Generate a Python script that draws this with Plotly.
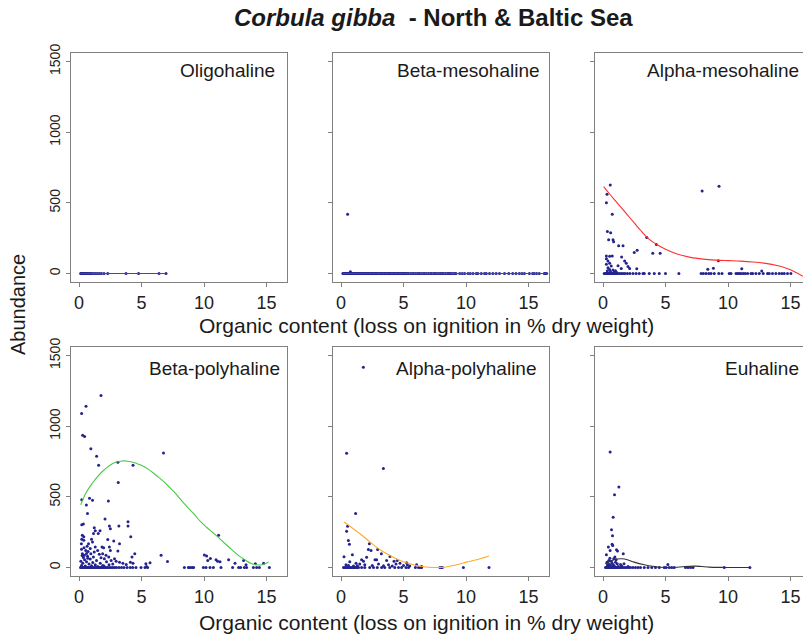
import plotly.graph_objects as go

# ---------------- data ----------------
panel_names = ["Oligohaline", "Beta-mesohaline", "Alpha-mesohaline",
               "Beta-polyhaline", "Alpha-polyhaline", "Euhaline"]
x_ticks = [0, 5, 10, 15]
y_ticks = [0, 500, 1000, 1500]

# Oligohaline
oligo_x = [0.13, 0.2, 0.28, 0.35, 0.42, 0.5, 0.58, 0.65, 0.75, 0.85, 0.95, 1.05,
           1.2, 1.35, 1.5, 1.65, 1.8, 2.0, 2.3, 3.76, 4.77, 6.4, 6.96]
oligo_y = [0] * 23
oligo_fit_x = [0.13, 6.96]
oligo_fit_y = [0, 0]

# Beta-mesohaline
bmeso_x = [0.53, 0.75,
           0.15, 0.2, 0.25, 0.3, 0.38, 0.45, 0.5, 0.58, 0.65, 0.7, 0.8, 0.88, 0.95, 1.05,
           1.12, 1.2, 1.3, 1.38, 1.45, 1.55, 1.62, 1.7, 1.8, 1.88, 1.95, 2.05, 2.15,
           2.22, 2.3, 2.4, 2.48, 2.55, 2.65, 2.75, 2.82, 2.9, 3.0, 3.1, 3.18, 3.25,
           3.35, 3.45, 3.52, 3.6, 3.7, 3.8, 3.88, 3.95, 4.05, 4.15, 4.22, 4.3, 4.4,
           4.5, 4.58, 4.65, 4.75, 4.85, 4.95,
           5.0, 5.1, 5.2, 5.3, 5.4, 5.55, 5.7, 5.8, 5.95, 6.1, 6.2, 6.3, 6.45, 6.6,
           6.7, 6.85, 7.0, 7.15, 7.25, 7.4, 7.5, 7.6, 7.75, 7.9, 8.0, 8.1, 8.2, 8.35,
           8.5, 8.6, 8.7, 8.8, 8.95, 9.1, 9.2,
           9.5, 9.7, 9.89, 10.16, 10.34, 10.56, 10.82, 10.95, 11.22, 11.48, 11.62,
           11.88, 12.15, 12.41, 12.68, 13.08, 13.42, 13.74, 14.0, 14.27, 14.48, 14.67,
           15.07, 15.33, 15.46, 15.65, 15.86, 16.26, 16.34, 16.45]
bmeso_y = [419, 12] + [0] * (len(bmeso_x) - 2)
bmeso_fit_x = [0.13, 16.5]
bmeso_fit_y = [0, 0]

# Alpha-mesohaline
ameso_x = [0.58, 0.32, 0.27, 0.74, 0.35, 0.61, 0.45, 0.8, 0.85, 1.25, 1.6, 3.5, 4.27,
           2.73, 2.5, 3.98, 4.57, 7.93, 9.28, 9.23, 0.27, 0.53, 0.74, 0.27, 0.4, 0.53,
           0.27, 0.66, 0.4, 0.53, 0.35, 0.6, 0.8, 0.9, 1.0, 1.49, 1.73, 1.86, 2.0, 1.46,
           2.13, 2.7, 8.38, 8.83, 11.1, 12.7, 1.2, 1.1,
           0.1, 0.18, 0.25, 0.3, 0.36, 0.42, 0.48, 0.55, 0.62, 0.7, 0.78, 0.86, 0.95,
           1.05, 1.15, 1.3, 1.45, 1.6, 1.75, 1.95, 2.15, 2.4, 2.65, 2.9, 3.2, 3.3, 3.7,
           4.1, 4.5, 5.0, 6.07, 7.85, 8.03, 8.24, 8.46, 8.64, 8.9, 9.26, 9.52, 10.1,
           10.24, 10.64, 10.77, 10.9, 11.04, 11.22, 11.38, 11.57, 11.84, 11.97, 12.23,
           12.5, 12.82, 13.16, 13.3, 13.56, 13.83, 14.1, 14.31, 14.5, 14.76, 15.03]
ameso_y = [627, 560, 500, 419, 297, 289, 239, 239, 225, 196, 196, 254, 206,
           165, 148, 144, 144, 584, 617, 91, 124, 122, 124, 105, 89, 72,
           65, 53, 41, 29, 20, 15, 25, 10, 20, 117, 89, 72, 50, 36,
           36, 33, 31, 38, 33, 17, 55, 8] + [0] * 62
ameso_fit_x = [0.05, 0.5, 1.0, 1.5, 2.0, 2.5, 3.0, 3.5, 4.0, 4.5, 5.0, 5.5, 6.0, 7.0,
               8.0, 9.0, 10.0, 11.0, 12.0, 13.0, 14.0, 14.5, 15.0, 15.5, 16.0]
ameso_fit_y = [615, 566, 514, 462, 410, 358, 306, 258, 222, 195, 172, 152, 136, 114,
               102, 95, 91, 88, 82, 72, 55, 43, 27, 5, -20]

# Beta-polyhaline
bpoly_x = [1.76, 0.56, 0.21, 0.29, 0.45, 0.95, 1.41, 1.57, 6.76, 4.32, 3.11, 3.14,
           2.35, 0.84, 1.08, 0.59, 0.68, 0.35, 0.22, 2.08, 3.92, 3.92, 3.19, 2.43,
           2.51, 1.22, 1.3, 1.68, 1.54, 1.16, 0.27, 0.38, 0.22, 0.38, 0.19, 1.0, 1.08,
           2.3, 2.78, 4.14, 0.76, 1.84, 1.97, 2.43, 2.51, 3.24, 3.11, 4.46, 4.24, 6.57,
           7.08, 5.68, 5.35, 5.4, 11.17, 10.03, 10.21, 10.51, 10.3, 10.96, 11.09, 11.28,
           11.97, 12.48, 13.17, 13.36, 14.11, 14.77, 0.22,
           0.54, 0.73, 0.27, 0.43, 0.68, 0.95, 1.22, 1.49, 1.62, 1.89, 2.16, 1.76, 2.03,
           2.38, 2.57, 2.84, 2.97, 3.24, 3.51, 3.78, 4.11, 4.32,
           0.15, 0.3, 0.45, 0.6, 0.8, 0.9, 1.1, 1.3, 1.4, 1.7, 1.9, 2.2, 2.4, 2.7, 0.2,
           0.5, 1.0, 1.5, 2.0, 0.35, 0.7, 1.15, 0.25, 0.6, 0.2, 0.4, 0.65, 0.9, 1.3,
           0.12, 0.2, 0.28, 0.36, 0.44, 0.52, 0.6, 0.68, 0.76, 0.85, 0.95, 1.05, 1.15,
           1.25, 1.35, 1.45, 1.55, 1.65, 1.75, 1.85, 1.95, 2.05, 2.15, 2.28, 2.4, 2.55,
           2.7, 2.85, 3.0, 3.2, 3.4, 3.6, 3.85, 4.1, 4.3, 4.56, 4.96, 5.28, 5.49, 8.43,
           8.75, 8.88, 9.04, 9.17, 9.95, 10.16, 10.48, 10.75, 11.36, 12.29, 12.77,
           12.93, 13.23, 13.41, 13.95, 14.21, 14.43, 15.23]
bpoly_y = [1217, 1141, 1090, 936, 926, 840, 788, 724, 810, 724, 745, 602,
           471, 490, 476, 443, 383, 307, 302, 343, 324, 293, 293, 293,
           274, 281, 260, 260, 240, 240, 229, 217, 200, 193, 169, 200, 181,
           198, 188, 217, 169, 145, 140, 145, 121, 169, 117, 98, 74, 86,
           43, 33, 26, 7, 229, 88, 81, 64, 50, 55, 45, 40,
           55, 31, 50, 19, 26, 31, 480,
           121, 114, 98, 86, 79, 98, 110, 121, 93, 98, 86, 69, 62,
           74, 50, 62, 45, 38, 31, 21, 38, 31,
           45, 30, 55, 40, 25, 60, 35, 20, 50, 30, 15, 40, 20, 25, 15,
           10, 12, 8, 10, 70, 65, 75, 85, 100, 130, 140, 150, 135, 145] + [0] * 58
bpoly_fit_x = [0.14, 0.54, 1.08, 1.5, 1.89, 2.3, 2.7, 3.1, 3.51, 3.9, 4.32, 4.7, 5.14,
               5.5, 5.95, 6.35, 6.76, 7.15, 7.57, 8.0, 8.38, 8.8, 9.19, 9.73, 10.2,
               10.7, 11.17, 11.7, 12.29, 12.8, 13.36, 13.7, 14.03, 14.4, 14.69, 15.17]
bpoly_fit_y = [443, 526, 598, 645, 681, 712, 736, 748, 754, 752, 745, 733, 717,
               698, 669, 640, 610, 575, 538, 495, 455, 415, 379, 324, 285,
               248, 212, 168, 121, 82, 50, 32, 21, 18, 22, 38]

# Alpha-polyhaline
apoly_x = [1.79, 0.45, 3.39, 1.17, 0.53, 0.45, 0.59, 0.67, 0.24, 0.91, 2.27, 2.19,
           2.4, 2.93, 3.23, 3.92, 1.65, 1.8, 2.05, 2.72, 2.85, 3.65, 4.24, 4.5, 4.72,
           5.25, 5.31, 6.05, 6.45, 0.4, 0.6, 1.0, 1.3, 1.5, 1.9, 2.5, 3.0, 3.4, 3.8,
           4.1, 4.4, 5.0, 5.5, 0.7, 1.2,
           0.2, 0.3, 0.4, 0.5, 0.6, 0.7, 0.8, 0.9, 1.0, 1.1, 1.2, 1.3, 1.4, 1.65, 1.9,
           2.3, 2.6, 2.9, 3.25, 3.5, 3.9, 4.3, 4.6, 4.85, 5.2, 5.4, 5.95, 6.2, 6.35,
           6.45, 7.92, 8.05, 8.11, 9.79, 11.84]
apoly_y = [1417, 808, 701, 382, 292, 256, 192, 164, 76, 90, 168, 128,
           121, 128, 97, 78, 55, 45, 73, 55, 55, 50, 45, 50, 31,
           33, 19, 19, 7, 20, 15, 10, 12, 25, 20, 15, 25, 12, 20,
           10, 25, 15, 10, 40, 30] + [0] * 35
apoly_fit_x = [0.24, 0.72, 1.52, 2.32, 3.12, 3.92, 4.72, 5.52, 6.32, 7.0, 7.6, 8.05,
               8.5, 8.99, 9.5, 10.05, 10.6, 11.12, 11.84]
apoly_fit_y = [322, 292, 239, 180, 126, 85, 50, 26, 9, 2, 0, 1,
               6, 14, 25, 38, 50, 62, 81]

# Euhaline
euha_x = [0.57, 1.27, 0.92, 0.81, 0.68, 0.76, 0.73, 0.78, 0.43, 1.08, 1.16, 0.57,
          1.62, 0.27, 0.95, 0.86, 5.19,
          0.46, 0.65, 0.32, 0.73, 1.0, 1.14, 1.4, 1.68, 0.5, 0.6, 0.4, 0.9, 1.2, 0.35,
          0.8, 1.5, 2.0, 0.55, 1.05,
          0.2, 0.26, 0.32, 0.38, 0.44, 0.5, 0.56, 0.62, 0.68, 0.74, 0.8, 0.88, 0.96,
          1.05, 1.15, 1.25, 1.35, 1.45, 1.6, 1.75, 1.9, 2.05, 2.2, 2.4, 2.6, 2.8, 3.0,
          3.3, 3.6, 3.9, 4.2, 4.5, 4.9, 5.05, 5.3, 5.5, 5.7, 6.6, 6.8, 7.0, 7.2, 9.7,
          11.75]
euha_y = [817, 569, 514, 355, 267, 224, 164, 155, 145, 126, 117, 121,
          98, 90, 74, 62, 21,
          50, 45, 38, 31, 38, 26, 21, 26, 24, 14, 10, 12, 8, 20,
          18, 10, 8, 65, 55] + [0] * 43
euha_fit_x = [0.19, 0.59, 1.14, 1.54, 1.95, 2.49, 3.3, 4.1, 4.65, 5.2, 5.73, 6.54,
              7.35, 7.9, 8.5, 9.5, 10.5, 11.75]
euha_fit_y = [26, 45, 60, 62, 55, 38, 19, 7, 2, 0, 0, 7,
              10, 7, 3, 1, 0, 0]

points = [(oligo_x, oligo_y), (bmeso_x, bmeso_y), (ameso_x, ameso_y),
          (bpoly_x, bpoly_y), (apoly_x, apoly_y), (euha_x, euha_y)]
fits = [(oligo_fit_x, oligo_fit_y), (bmeso_fit_x, bmeso_fit_y),
        (ameso_fit_x, ameso_fit_y), (bpoly_fit_x, bpoly_fit_y),
        (apoly_fit_x, apoly_fit_y), (euha_fit_x, euha_fit_y)]
fit_colors = ["#3c4ab0", "#3c4ab0", "#ff3030", "#48c848", "#ffaa2a", "#333333"]

# ---------------- layout ----------------
W, H = 803, 635
col_px = [(71, 287), (333, 549), (595, 803)]
row_px = [(53, 282), (347, 576)]
x_ranges = [[-0.64, 16.64], [-0.64, 16.64], [-0.64, 16.0]]
y_range = [-60, 1560]
label_right_px = [277, 542, 801, 282, 539, 801]
label_y_px = [71, 71, 71, 368, 368, 368]

AX_COL = "#808080"
TXT = "#1a1a1a"
TICK_FONT = "Liberation Sans Narrow, Liberation Sans, Arial"

fig = go.Figure()
layout = dict(template="none", width=W, height=H, autosize=False,
              margin=dict(l=0, r=0, t=0, b=0, pad=0, autoexpand=False),
              paper_bgcolor="white", plot_bgcolor="white", showlegend=False,
              font=dict(family="Liberation Sans, Arial, sans-serif", color=TXT))

for i in range(6):
    r, c = divmod(i, 3)
    n = "" if i == 0 else str(i + 1)
    x0, x1 = col_px[c]
    y0, y1 = row_px[r]
    layout["xaxis" + n] = dict(
        domain=[x0 / W, x1 / W], range=x_ranges[c], anchor="y" + n, automargin=False,
        tickmode="array", tickvals=x_ticks, ticktext=[str(v) for v in x_ticks],
        showline=True, linecolor=AX_COL, linewidth=1, mirror=True,
        ticks="outside", ticklen=4, tickcolor=AX_COL, showgrid=False, zeroline=False,
        tickfont=dict(family=TICK_FONT, size=18, color="#222222"))
    layout["yaxis" + n] = dict(
        domain=[1 - y1 / H, 1 - y0 / H], range=y_range, anchor="x" + n, automargin=False,
        tickmode="array", tickvals=y_ticks, ticktext=[str(v) for v in y_ticks],
        showticklabels=(c == 0), tickangle=-90,
        showline=True, linecolor=AX_COL, linewidth=1, mirror=(c != 2),
        ticks="outside", ticklen=4, tickcolor=AX_COL, showgrid=False, zeroline=False,
        tickfont=dict(family=TICK_FONT, size=14, color="#222222"))
    px_, py_ = points[i]
    fig.add_trace(go.Scatter(x=px_, y=py_, mode="markers", xaxis="x" + n, yaxis="y" + n,
                             marker=dict(size=3, color="#23238f", line=dict(width=0)),
                             hoverinfo="skip"))
    fx, fy = fits[i]
    fig.add_trace(go.Scatter(x=fx, y=fy, mode="lines", xaxis="x" + n, yaxis="y" + n,
                             line=dict(color=fit_colors[i], width=1.1, shape="spline"),
                             hoverinfo="skip"))

annotations = []
for i in range(6):
    annotations.append(dict(text=panel_names[i], xref="paper", yref="paper",
                            x=label_right_px[i] / W, y=1 - label_y_px[i] / H,
                            xanchor="right", yanchor="middle", showarrow=False,
                            font=dict(size=19, color=TXT)))
annotations.append(dict(text="<b><i>Corbula gibba</i> &#160;- North &amp; Baltic Sea</b>",
                        xref="paper", yref="paper", x=433 / W, y=1 - 18 / H,
                        xanchor="center", yanchor="middle", showarrow=False,
                        font=dict(size=24, color=TXT)))
for yy in (325, 622):
    annotations.append(dict(text="Organic content (loss on ignition in % dry weight)",
                            xref="paper", yref="paper", x=426 / W, y=1 - yy / H,
                            xanchor="center", yanchor="middle", showarrow=False,
                            font=dict(size=21, color=TXT)))
annotations.append(dict(text="Abundance", xref="paper", yref="paper", x=18 / W,
                        y=1 - 305 / H, xanchor="center", yanchor="middle",
                        textangle=-90, showarrow=False, font=dict(size=20, color=TXT)))
layout["annotations"] = annotations
fig.update_layout(**layout)

fig.write_html("out.html", config={"displayModeBar": False},
               post_script="document.body.style.margin='0';"
                           "document.body.style.overflow='hidden';")
